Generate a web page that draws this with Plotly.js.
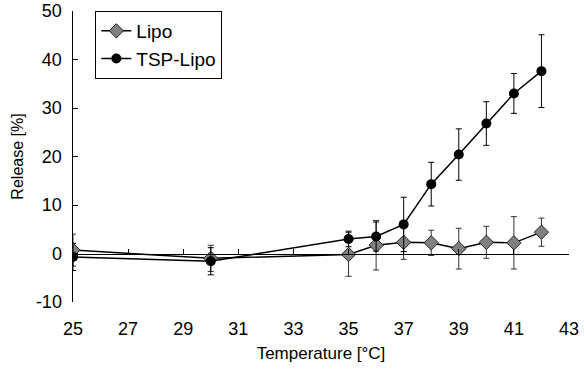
<!DOCTYPE html>
<html><head><meta charset="utf-8">
<script src="https://cdn.plot.ly/plotly-3.0.1.min.js"></script>
<style>html,body{margin:0;padding:0;background:#fff}#c{width:584px;height:374px}</style>
</head><body><div id="c"></div>
<script>
const temps = [25, 30, 35, 36, 37, 38, 39, 40, 41, 42];
const lipo = [0.7, -1.0, -0.2, 1.7, 2.3, 2.2, 1.0, 2.3, 2.2, 4.4];
const lipoErr = [3.3, 2.7, 4.5, 5.1, 3.5, 2.6, 4.2, 3.3, 5.4, 2.9];
const tsp = [-0.7, -1.6, 3.0, 3.5, 6.0, 14.3, 20.4, 26.8, 33.0, 37.6];
const tspErr = [2.8, 2.8, 1.6, 3.0, 5.6, 4.5, 5.3, 4.5, 4.1, 7.5];
const xTicks = [25, 27, 29, 31, 33, 35, 37, 39, 41, 43];
const yTicks = [-10, 0, 10, 20, 30, 40, 50];

const fam = 'Liberation Sans, Arial, sans-serif';
const tickFont = {family: fam, size: 18, color: '#000'};
const legFont = {family: fam, size: 19, color: '#000'};
const xTitleFont = {family: fam, size: 17, color: '#000'};
const yTitleFont = {family: fam, size: 16, color: '#000'};

const traces = [
  {x: temps, y: lipo, name: 'Lipo', type: 'scatter', mode: 'lines+markers',
   line: {color: '#000', width: 1.5},
   marker: {symbol: 'diamond', size: 11, color: '#808080', line: {color: '#222', width: 1}},
   error_y: {type: 'data', array: lipoErr, visible: true, color: '#333', thickness: 1, width: 3}},
  {x: temps, y: tsp, name: 'TSP-Lipo', type: 'scatter', mode: 'lines+markers',
   line: {color: '#000', width: 1.5},
   marker: {symbol: 'circle', size: 10, color: '#000'},
   error_y: {type: 'data', array: tspErr, visible: true, color: '#000', thickness: 1, width: 3}},
  {x: [25, 43], y: [0, 0], xaxis: 'x2', type: 'scatter', mode: 'lines',
   line: {color: 'rgba(0,0,0,0)'}, showlegend: false, hoverinfo: 'skip'}
];

const layout = {
  width: 584, height: 374,
  margin: {l: 73, r: 15, t: 11, b: 72},
  paper_bgcolor: '#fff', plot_bgcolor: '#fff',
  font: tickFont,
  showlegend: true,
  legend: {x: 0.045, y: 1, xanchor: 'left', yanchor: 'top', bgcolor: '#fff',
           bordercolor: '#000', borderwidth: 1, font: legFont, tracegroupgap: 0,
           itemwidth: 30},
  xaxis: {range: [25, 43], tickvals: xTicks, ticktext: xTicks.map(String),
          showline: false, ticks: '', showgrid: false, zeroline: false,
          ticklabelstandoff: 14, tickfont: tickFont,
          title: {text: 'Temperature [°C]', font: xTitleFont, standoff: 9}},
  xaxis2: {range: [25, 43], overlaying: 'x', anchor: 'free', position: 1/6,
           tickvals: xTicks, showticklabels: false, ticks: 'inside', ticklen: 5,
           tickcolor: '#000', showline: true, linecolor: '#000', linewidth: 1.5,
           showgrid: false, zeroline: false},
  yaxis: {range: [-10, 50], tickvals: yTicks, ticktext: yTicks.map(String),
          showline: true, linecolor: '#000', linewidth: 1.5, ticks: 'inside', ticklen: 5,
          tickcolor: '#000', showgrid: false, zeroline: false, tickfont: tickFont,
          ticklabelstandoff: 6,
          title: {text: 'Release [%]', font: yTitleFont, standoff: 8}}
};

Plotly.newPlot('c', traces, layout, {displayModeBar: false, staticPlot: true});
</script>
</body></html>
